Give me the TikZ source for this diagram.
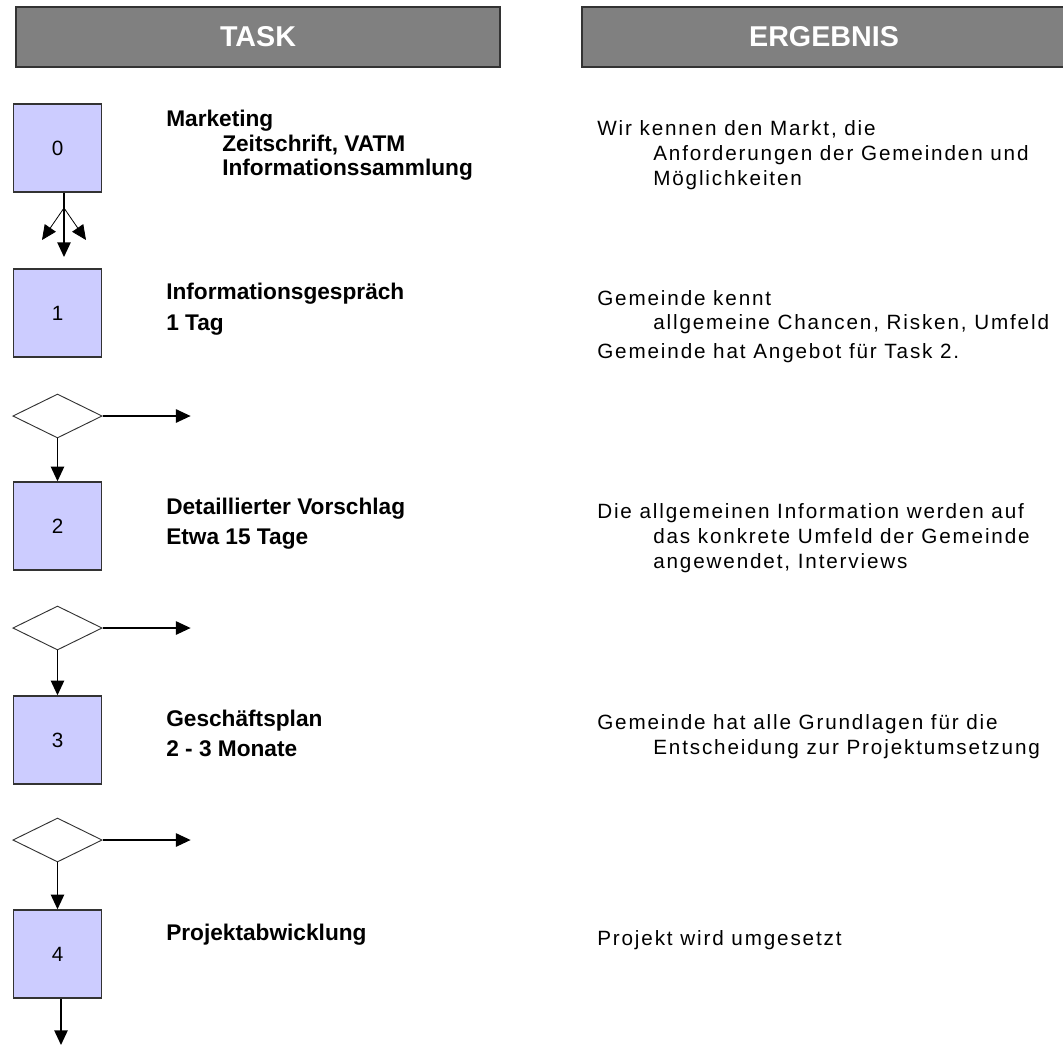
\documentclass[tikz,border=0pt]{standalone}
\usepackage{fontspec}
\setmainfont{Liberation Sans}
\newfontfamily\ergfont[LetterSpace=9]{Liberation Sans}
\usetikzlibrary{arrows.meta,shapes.geometric}
\definecolor{HdrGray}{HTML}{808080}
\definecolor{HdrLine}{HTML}{333333}
\definecolor{BoxF}{HTML}{CCCCFF}
\definecolor{BoxLine}{HTML}{333333}

\begin{document}
\begin{tikzpicture}[
  x=0.75pt, y=-0.75pt,
  hdr/.style={draw=HdrLine, fill=HdrGray, line width=1.2pt, minimum height=45pt,
    minimum width=363pt, inner sep=0pt, text=white,
    font=\fontsize{21.5}{24}\selectfont\bfseries},
  stage/.style={draw=BoxLine, fill=BoxF, line width=1.1pt, minimum size=66pt,
    inner sep=0pt, font=\fontsize{15.5}{18}\selectfont},
  gate/.style={diamond, draw=BoxLine, line width=0.7pt, minimum width=67pt,
    minimum height=33pt, inner sep=0pt},
  tsk/.style={anchor=west, inner sep=0pt, text height=12.2pt, text depth=0pt,
    font=\fontsize{17}{20}\selectfont\bfseries},
  erg/.style={anchor=west, inner sep=0pt, text height=11.1pt, text depth=0pt,
    font=\ergfont\fontsize{15.5}{18}\selectfont},
  flow/.style={->, line width=1.1pt, draw=black},
  >={Triangle[length=11pt,width=10pt]}
]
  \useasboundingbox (0,0) rectangle (1063,1047);

  % column headers
  \node[hdr] (hdrT) at (258,37) {TASK};
  \node[hdr] (hdrE) at (824,37) {ERGEBNIS};

  % task boxes and gates
  \node[stage] (b0) at (57.5,148) {0};
  \node[stage] (b1) at (57.5,313) {1};
  \node[gate]  (g1) at (57.5,416) {};
  \node[stage] (b2) at (57.5,526) {2};
  \node[gate]  (g2) at (57.5,628) {};
  \node[stage] (b3) at (57.5,740) {3};
  \node[gate]  (g3) at (57.5,840) {};
  \node[stage] (b4) at (57.5,954) {4};

  % fan of arrows below box 0
  \coordinate (split) at (64,208);
  \coordinate (fanL) at (42,240);
  \coordinate (fanR) at (86,240);
  \coordinate (fanM) at (64,257);
  \draw[line width=1.1pt] (b0.south -| split) -- (split);
  \draw[flow] (split) -- (fanM);
  \draw[->, line width=0.6pt] (split) -- (fanL);
  \draw[->, line width=0.6pt] (split) -- (fanR);

  % gates
  \foreach \g/\b in {g1/b2, g2/b3, g3/b4}{
    \coordinate (\g out) at ([xshift=66pt]\g.east);
    \draw[flow] (\g.east) -- (\g out);
    \draw[flow] (\g.south) -- (\b.north);
  }
  \coordinate (endT) at (61,1045);
  \draw[flow] (b4.south -| endT) -- (endT);

  % task texts
  \node[tsk] (t0a) at (166,118) {Marketing};
  \node[tsk] (t0b) at (222,143) {Zeitschrift, VATM};
  \node[tsk] (t0c) at (222,167) {Informationssammlung};
  \node[tsk] (t1a) at (166,291) {Informationsgespräch};
  \node[tsk] (t1b) at (166,322) {1 Tag};
  \node[tsk] (t2a) at (166,506) {Detaillierter Vorschlag};
  \node[tsk] (t2b) at (166,536) {Etwa 15 Tage};
  \node[tsk] (t3a) at (166,718) {Geschäftsplan};
  \node[tsk] (t3b) at (166,748) {2 - 3 Monate};
  \node[tsk] (t4a) at (166,932) {Projektabwicklung};

  % result texts
  \node[erg] (e0a) at (597,128) {Wir kennen den Markt, die};
  \node[erg] (e0b) at (653,153) {Anforderungen der Gemeinden und};
  \node[erg] (e0c) at (653,178) {Möglichkeiten};
  \node[erg] (e1a) at (597,298) {Gemeinde kennt};
  \node[erg] (e1b) at (653,322) {allgemeine Chancen, Risken, Umfeld};
  \node[erg] (e1c) at (597,351) {Gemeinde hat Angebot für Task 2.};
  \node[erg] (e2a) at (597,511) {Die allgemeinen Information werden auf};
  \node[erg] (e2b) at (653,536) {das konkrete Umfeld der Gemeinde};
  \node[erg] (e2c) at (653,561) {angewendet, Interviews};
  \node[erg] (e3a) at (597,722) {Gemeinde hat alle Grundlagen für die};
  \node[erg] (e3b) at (653,747) {Entscheidung zur Projektumsetzung};
  \node[erg] (e4a) at (597,938) {Projekt wird umgesetzt};
\end{tikzpicture}
\end{document}
